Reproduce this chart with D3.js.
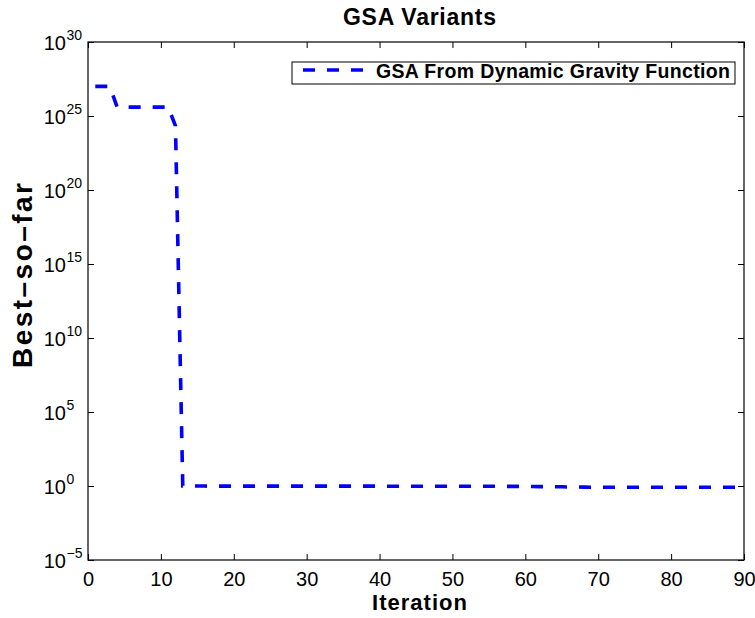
<!DOCTYPE html>
<html>
<head>
<meta charset="utf-8">
<script src="https://cdn.jsdelivr.net/npm/d3@7"></script>
<style>
  html, body { margin: 0; padding: 0; background: #fff; }
  svg { display: block; font-family: "Liberation Sans", Arial, Helvetica, sans-serif; }
</style>
</head>
<body>
<svg id="chart" width="755" height="618"></svg>
<script>
// Best-so-far value recorded at each iteration of the run
const iterations = [
  1, 2, 3, 4, 5, 6, 7, 8, 9, 10,
  11, 12, 13, 14, 15, 16, 17, 18, 19, 20,
  21, 22, 23, 24, 25, 26, 27, 28, 29, 30,
  31, 32, 33, 34, 35, 36, 37, 38, 39, 40,
  41, 42, 43, 44, 45, 46, 47, 48, 49, 50,
  51, 52, 53, 54, 55, 56, 57, 58, 59, 60,
  61, 62, 63, 64, 65, 66, 67, 68, 69, 70,
  71, 72, 73, 74, 75, 76, 77, 78, 79, 80,
  81, 82, 83, 84, 85, 86, 87, 88, 89, 90
];
const bestSoFar = [
  1e27, 1e27, 1e27, 4e25, 4e25, 4e25, 4e25, 4e25, 4e25, 4e25,
  4e25, 2.2e24, 1.02, 0.99, 0.99, 0.99, 0.98, 0.98, 0.98, 0.98,
  0.98, 0.98, 0.98, 0.98, 0.98, 0.98, 0.98, 0.98, 0.98, 0.98,
  0.98, 0.98, 0.98, 0.98, 0.98, 0.98, 0.98, 0.98, 0.98, 0.98,
  0.97, 0.97, 0.97, 0.97, 0.97, 0.97, 0.97, 0.97, 0.97, 0.97,
  0.97, 0.97, 0.97, 0.97, 0.97, 0.95, 0.95, 0.95, 0.95, 0.95,
  0.92, 0.91, 0.90, 0.89, 0.88, 0.86, 0.85, 0.84, 0.83, 0.83,
  0.82, 0.82, 0.82, 0.82, 0.82, 0.82, 0.82, 0.82, 0.82, 0.82,
  0.82, 0.82, 0.82, 0.82, 0.82, 0.82, 0.82, 0.82, 0.82, 0.82
];
const xTicks = [0, 10, 20, 30, 40, 50, 60, 70, 80, 90];
const yTickExponents = [-5, 0, 5, 10, 15, 20, 25, 30];

const seriesName = "GSA From Dynamic Gravity Function";
const titleText = "GSA Variants";
const xLabelText = "Iteration";
const yLabelText = "Best\u2013so\u2013far";

const margin = { left: 88, top: 42, right: 11, bottom: 58 };
const W = 755, H = 618;
const pw = W - margin.left - margin.right;
const ph = H - margin.top - margin.bottom;

const svg = d3.select("#chart");
const g = svg.append("g").attr("transform", `translate(${margin.left},${margin.top})`);

const x = d3.scaleLinear().domain([0, 90]).range([0, pw]);
const y = d3.scaleLog().domain([1e-5, 1e30]).range([ph, 0]);

const tickLen = 6;
const tickFont = 20;

// Bottom axis (ticks pointing inwards)
const xAxis = g.append("g").attr("transform", `translate(0,${ph})`)
  .call(d3.axisBottom(x).tickValues(xTicks).tickSizeInner(-tickLen).tickSizeOuter(0)
    .tickPadding(0).tickFormat(d3.format("d")));
xAxis.select(".domain").remove();
xAxis.selectAll("text").attr("font-size", tickFont).attr("fill", "#000")
  .attr("font-family", "Liberation Sans, Arial, sans-serif")
  .attr("dy", null).attr("y", 26);
xAxis.selectAll("line").attr("stroke", "#000");

// Top mirror ticks
const xTop = g.append("g")
  .call(d3.axisTop(x).tickValues(xTicks).tickSizeInner(-tickLen).tickSizeOuter(0).tickFormat(""));
xTop.select(".domain").remove();
xTop.selectAll("line").attr("stroke", "#000");

// Left and right ticks at every fifth decade
const yVals = yTickExponents.map(e => Math.pow(10, e));
const yAxis = g.append("g")
  .call(d3.axisLeft(y).tickValues(yVals).tickSizeInner(-tickLen).tickSizeOuter(0).tickFormat(""));
yAxis.select(".domain").remove();
yAxis.selectAll("line").attr("stroke", "#000");

const yRight = g.append("g").attr("transform", `translate(${pw},0)`)
  .call(d3.axisRight(y).tickValues(yVals).tickSizeInner(-tickLen).tickSizeOuter(0).tickFormat(""));
yRight.select(".domain").remove();
yRight.selectAll("line").attr("stroke", "#000");

// Power-of-ten labels: base right-aligned, exponent set as a superscript
const yLab = g.append("g");
yTickExponents.forEach(e => {
  const ty = y(Math.pow(10, e));
  yLab.append("text")
    .attr("x", -22)
    .attr("y", ty + 8)
    .attr("text-anchor", "end")
    .attr("font-size", tickFont)
    .attr("fill", "#000")
    .text("10");
  yLab.append("text")
    .attr("x", -21.5)
    .attr("y", ty - 2)
    .attr("font-size", 14)
    .attr("fill", "#000")
    .text(e < 0 ? "\u2212" + Math.abs(e) : String(e));
});

// Plot box
g.append("rect").attr("x", 0).attr("y", 0).attr("width", pw).attr("height", ph)
  .attr("fill", "none").attr("stroke", "#000").attr("stroke-width", 1.2);

// Series line
g.append("clipPath").attr("id", "clip").append("rect")
  .attr("x", 0).attr("y", 0).attr("width", pw).attr("height", ph);

const pts = iterations.map((it, i) => [it, bestSoFar[i]]);
const line = d3.line().x(d => x(d[0])).y(d => y(d[1]));
g.append("path").datum(pts)
  .attr("clip-path", "url(#clip)")
  .attr("d", line)
  .attr("fill", "none")
  .attr("stroke", "#0000ff")
  .attr("stroke-width", 3.6)
  .attr("stroke-dasharray", "12,12");

// Legend
const lg = svg.append("g").attr("transform", "translate(292,62)");
lg.append("rect").attr("x", 0).attr("y", 0).attr("width", 443).attr("height", 22)
  .attr("fill", "#fff").attr("stroke", "#000").attr("stroke-width", 1);
lg.append("line").attr("x1", 11).attr("x2", 72).attr("y1", 8).attr("y2", 8)
  .attr("stroke", "#0000ff").attr("stroke-width", 3.6).attr("stroke-dasharray", "12,12");
lg.append("text").attr("x", 84).attr("y", 15.5)
  .attr("font-size", 19.5).attr("font-weight", "bold").attr("fill", "#000")
  .attr("textLength", 354).attr("lengthAdjust", "spacing")
  .text(seriesName);

// Title and axis labels
svg.append("text").attr("x", 343).attr("y", 25)
  .attr("font-size", 23).attr("font-weight", "bold")
  .attr("textLength", 153).attr("lengthAdjust", "spacing")
  .text(titleText);
svg.append("text").attr("x", 372).attr("y", 610)
  .attr("font-size", 22).attr("font-weight", "bold")
  .attr("textLength", 95).attr("lengthAdjust", "spacing")
  .text(xLabelText);
svg.append("text").attr("transform", "translate(32,368) rotate(-90)")
  .attr("font-size", 28).attr("font-weight", "bold")
  .attr("textLength", 185).attr("lengthAdjust", "spacing")
  .text(yLabelText);
</script>
</body>
</html>
